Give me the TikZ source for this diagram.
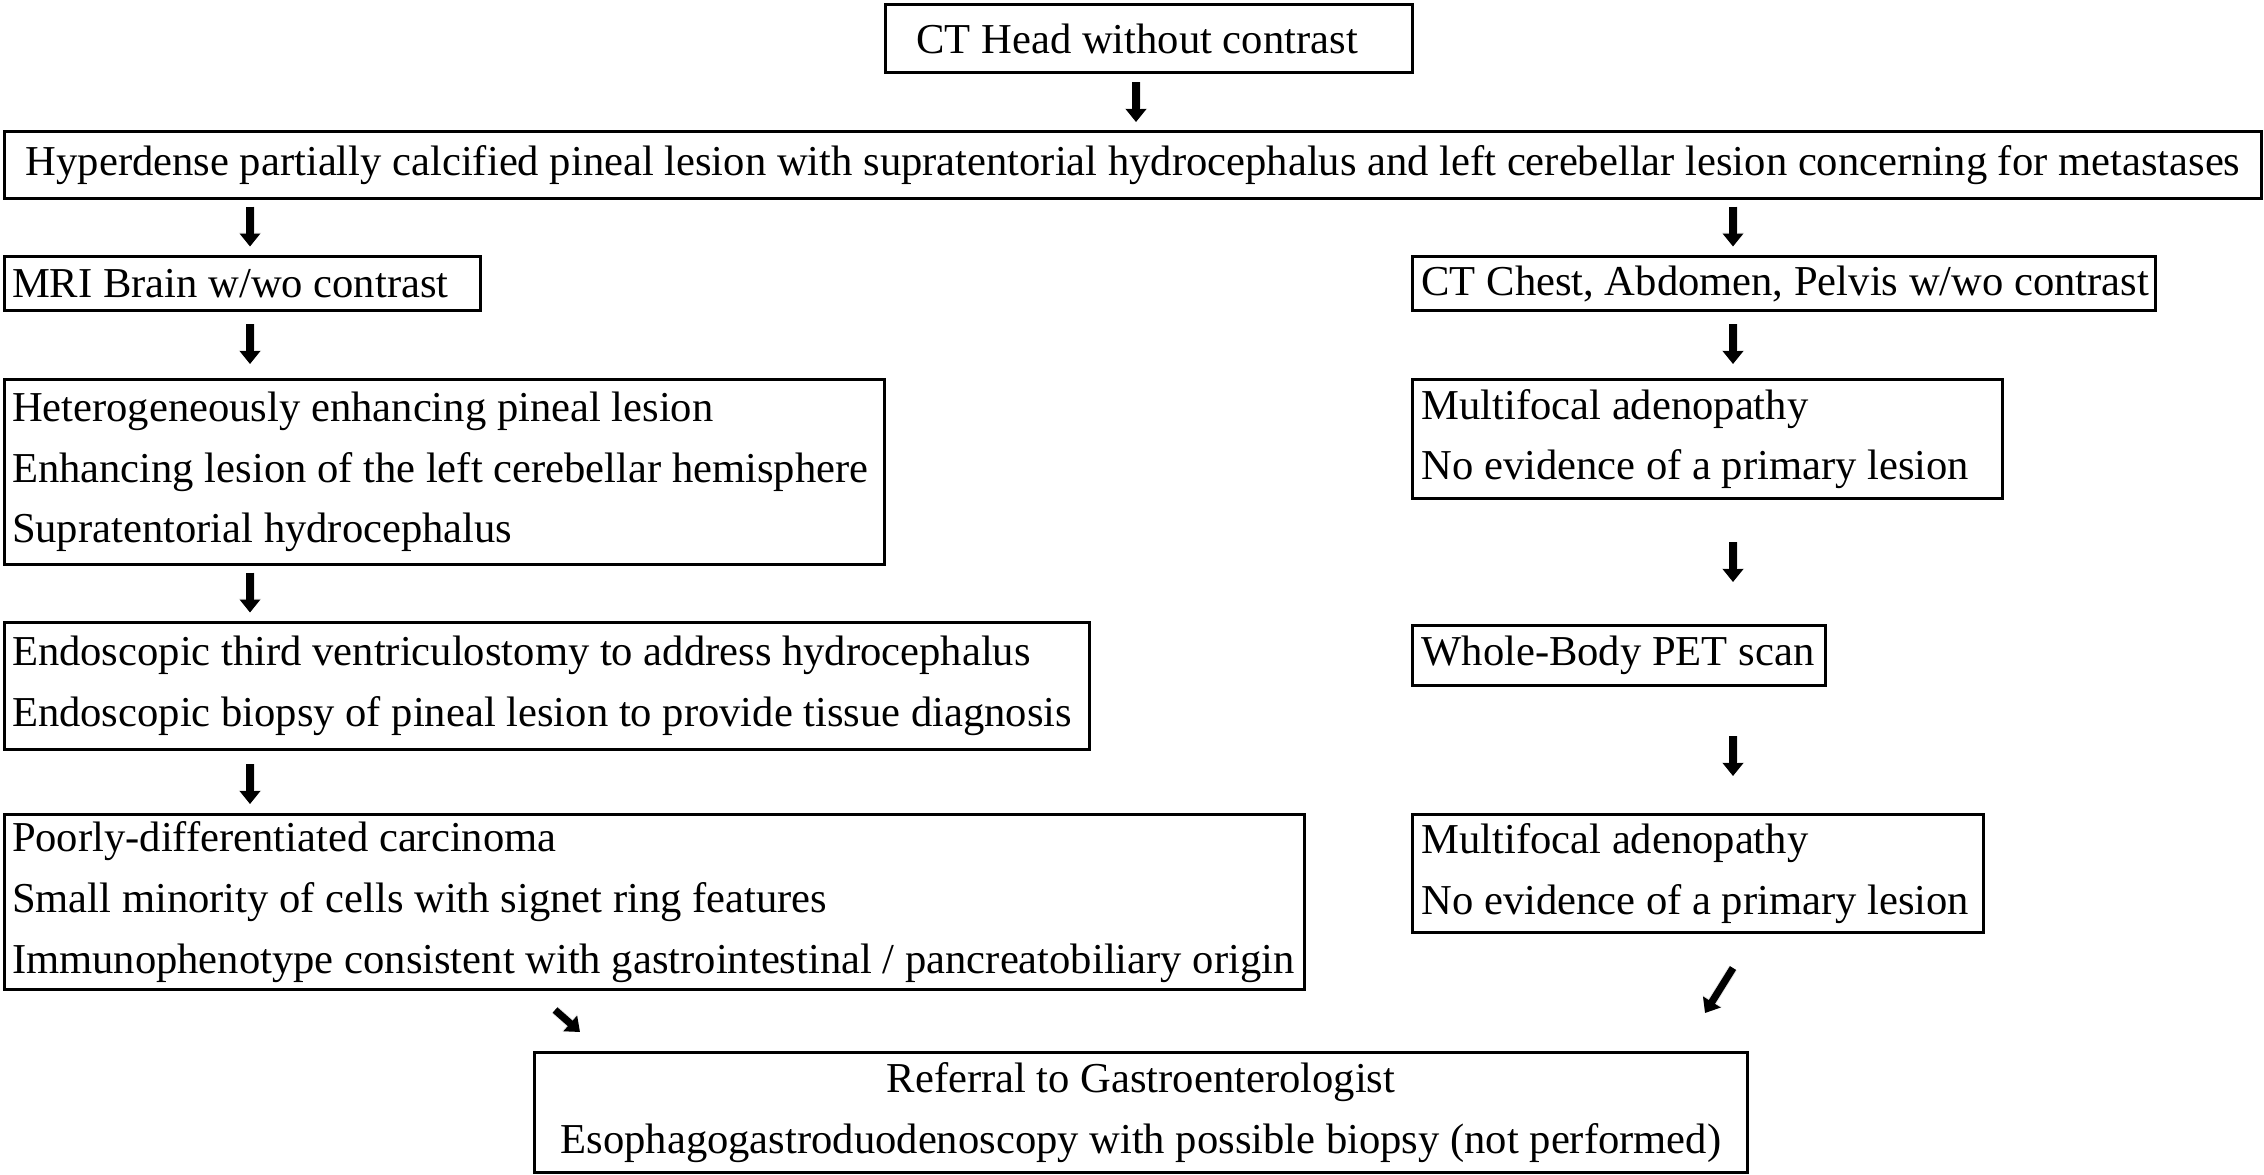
\documentclass[tikz,border=0pt]{standalone}
\usepackage{fontspec}
\setmainfont{Liberation Serif}
\usetikzlibrary{arrows.meta,calc}
\newcommand{\tline}[1]{\mbox{#1}}
\begin{document}
\begin{tikzpicture}[x=0.5pt,y=-0.5pt,
  box/.style={draw, line width=1.5pt, inner xsep=4.5pt, inner ysep=0pt, anchor=north west,
    font=\fontsize{21.3pt}{30.3pt}\selectfont},
  lbox/.style={box, align=flush left},
  lboxl/.style={lbox, inner xsep=3.75pt},
  cbox/.style={box, align=center},
  arr/.style={line width=3.6pt, -{Triangle[width=10pt,length=6.5pt]}, black},
  shd/.style={line width=4.5pt, -{Triangle[width=11pt,length=7pt]}, black!10, shift={(2,3)}}]
\useasboundingbox (0,0) rectangle (2264,1174);
\node[lbox, inner xsep=15.5pt, text width=232.5pt, minimum height=34pt] (ct) at (884,3) {\tline{CT Head without contrast}};
\node[cbox, minimum width=1128.5pt, minimum height=33.5pt] (hyp) at (3,130) {Hyperdense partially calcified pineal lesion with supratentorial hydrocephalus and left cerebellar lesion concerning for metastases};
\node[lboxl, text width=230.5pt, minimum height=27pt] (mri) at (3,255) {\tline{MRI Brain w/wo contrast}};
\node[lbox, text width=362.5pt, minimum height=27pt] (ctc) at (1411,255) {\tline{CT Chest, Abdomen, Pelvis w/wo contrast}};
\node[lboxl, text width=432.5pt, minimum height=92.5pt] (het) at (3,378) {\tline{Heterogeneously enhancing pineal lesion}\\\tline{Enhancing lesion of the left cerebellar hemisphere}\\\tline{Supratentorial hydrocephalus}};
\node[lbox, text width=286pt, minimum height=59.5pt] (mf1) at (1411,378) {\tline{Multifocal adenopathy}\\\tline{No evidence of a primary lesion}};
\node[lboxl, text width=535pt, minimum height=63.5pt] (endo) at (3,621) {\tline{Endoscopic third ventriculostomy to address hydrocephalus}\\\tline{Endoscopic biopsy of pineal lesion to provide tissue diagnosis}};
\node[lbox, text width=197.5pt, minimum height=30pt] (pet) at (1411,624) {\tline{Whole-Body PET scan}};
\node[lboxl, text width=642.5pt, minimum height=87.5pt] (poor) at (3,813) {\tline{Poorly-differentiated carcinoma}\\\tline{Small minority of cells with signet ring features}\\\tline{Immunophenotype consistent with gastrointestinal / pancreatobiliary origin}};
\node[lbox, text width=276.5pt, minimum height=59pt] (mf2) at (1411,813) {\tline{Multifocal adenopathy}\\\tline{No evidence of a primary lesion}};
\node[cbox, minimum width=606.5pt, minimum height=60pt] (ref) at (533,1051) {Referral to Gastroenterologist\\Esophagogastroduodenoscopy with possible biopsy (not performed)};
\coordinate (cL) at (250,0);
\coordinate (cR) at (1733,0);
\coordinate (cM) at (1136,0);
\foreach \s in {shd,arr}{
\draw[\s] ($(ct.south -| cM)!.5!(hyp.north -| cM)+(0,-20)$) -- ++(0,40);
\draw[\s] ($(hyp.south -| cL)!.5!(mri.north -| cL)+(0,-21)$) -- ++(0,40);
\draw[\s] ($(hyp.south -| cR)!.5!(ctc.north -| cR)+(0,-21)$) -- ++(0,40);
\draw[\s] ($(mri.south -| cL)!.5!(het.north -| cL)+(0,-21)$) -- ++(0,40);
\draw[\s] ($(ctc.south -| cR)!.5!(mf1.north -| cR)+(0,-21)$) -- ++(0,40);
\draw[\s] ($(het.south -| cL)!.5!(endo.north -| cL)+(0,-21)$) -- ++(0,40);
\draw[\s] ($(mf1.south -| cR)!.5!(pet.north -| cR)+(0,-20)$) -- ++(0,40);
\draw[\s] ($(endo.south -| cL)!.5!(poor.north -| cL)+(0,-18)$) -- ++(0,40);
\draw[\s] ($(pet.south -| cR)!.5!(mf2.north -| cR)+(0,-14)$) -- ++(0,40);
\draw[\s] ($(poor.south west)+(552,19)$) -- ($(ref.north west)+(47,-19)$);
\draw[\s] ($(mf2.south west)+(322,34)$) -- ($(ref.north east)+(-44,-38)$);
}
\end{tikzpicture}
\end{document}
